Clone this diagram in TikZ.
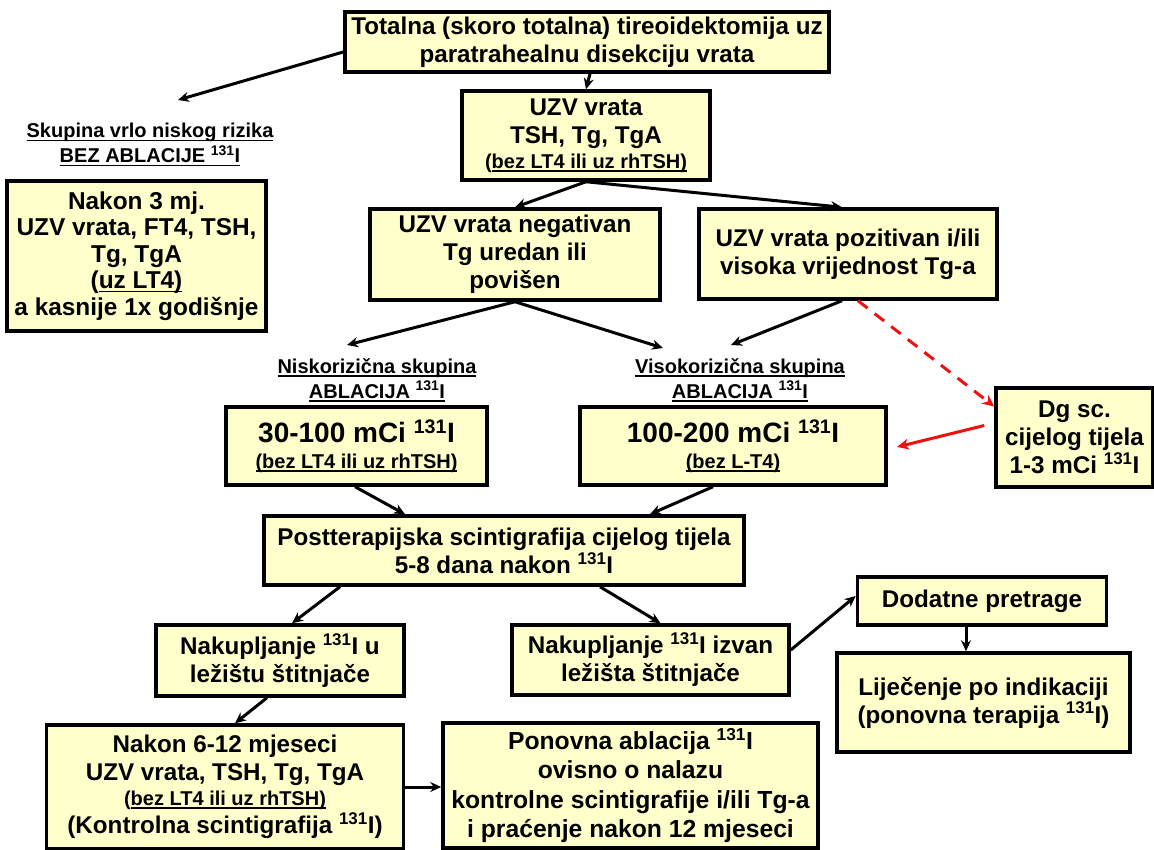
\documentclass[tikz,border=0pt]{standalone}
\usepackage{fontspec}
\setmainfont{Liberation Sans}
\usetikzlibrary{arrows.meta}
\definecolor{boxfill}{HTML}{FFFFCC}
\definecolor{redline}{HTML}{F01010}
\newcommand\ulx[1]{\sbox0{#1}\leavevmode\rlap{\rule[-3.5pt]{\wd0}{1.8pt}}\usebox0}
\newcommand\iso{\textsuperscript{131}I}
\newcommand\fmain{\fontsize{24.2}{28}\selectfont\bfseries}
\newcommand\fsmall{\fontsize{20}{25}\selectfont\bfseries}
\newcommand\fbig{\fontsize{28}{32}\selectfont\bfseries}
\begin{document}
\begin{tikzpicture}[x=1pt,y=-1pt,
  box/.style={draw, line width=3.5pt, fill=boxfill, align=center, inner sep=0pt, font=\fmain},
  hdr/.style={align=center, inner sep=0pt, font=\fsmall},
  arr/.style={line width=3pt, -{Stealth[length=11pt,width=10pt]}},
  redarr/.style={line width=3pt, draw=redline, -{Stealth[length=12pt,width=11pt]}}]
\useasboundingbox (0,0) rectangle (1154,850);

% boxes
\node[box, minimum width=484pt, minimum height=60pt] (top) at (587,42)
  {Totalna (skoro totalna) tireoidektomija uz\\paratrahealnu disekciju vrata};
\node[box, minimum width=248pt, minimum height=89pt] (uzv) at (586,135.5)
  {UZV vrata\\TSH, Tg, TgA\\[-3pt]{\fsmall (\ulx{bez LT4 ili uz rhTSH)}}};
\node[hdr] (hL) at (150,145)
  {\ulx{Skupina vrlo niskog rizika}\\\ulx{BEZ ABLACIJE \iso}};
\node[box, minimum width=259pt, minimum height=150pt, font=\fontsize{24.4}{26.6}\selectfont\bfseries] (left) at (136.5,256)
  {Nakon 3 mj.\\UZV vrata, FT4, TSH,\\Tg, TgA\\(\ulx{uz LT4)}\\a kasnije 1x godišnje};
\node[box, minimum width=290pt, minimum height=91pt] (neg) at (515,254.5)
  {UZV vrata negativan\\Tg uredan ili\\povišen};
\node[box, minimum width=298pt, minimum height=90pt] (pos) at (848,254)
  {UZV vrata pozitivan i/ili\\visoka vrijednost Tg-a};
\node[box, minimum width=157pt, minimum height=99pt] (dg) at (1074.5,437.5)
  {Dg sc.\\cijelog tijela\\1-3 mCi \iso};
\node[hdr] (hN) at (377,380)
  {\ulx{Niskorizična skupina}\\\ulx{ABLACIJA \iso}};
\node[hdr] (hV) at (740,380)
  {\ulx{Visokorizična skupina}\\\ulx{ABLACIJA \iso}};
\node[box, minimum width=261pt, minimum height=78pt] (low) at (356.5,446)
  {{\fbig 30-100 mCi \iso}\\[-2pt]{\fsmall \ulx{(bez LT4 ili uz rhTSH)}}};
\node[box, minimum width=306pt, minimum height=78pt] (high) at (733,446)
  {{\fbig 100-200 mCi \iso}\\[-2pt]{\fsmall \ulx{(bez L-T4)}}};
\node[box, minimum width=480pt, minimum height=69pt] (post) at (504,550.5)
  {Postterapijska scintigrafija cijelog tijela\\5-8 dana nakon \iso};
\node[box, minimum width=248pt, minimum height=71pt] (nakU) at (280,660.5)
  {Nakupljanje \iso{} u\\ležištu štitnjače};
\node[box, minimum width=277pt, minimum height=70pt] (nakIz) at (650.5,660)
  {Nakupljanje \iso{} izvan\\ležišta štitnjače};
\node[box, minimum width=249pt, minimum height=48pt] (dod) at (982,601)
  {Dodatne pretrage};
\node[box, minimum width=293pt, minimum height=99pt] (lij) at (983.5,702.5)
  {Liječenje po indikaciji\\(ponovna terapija \iso)};
\node[box, minimum width=357pt, minimum height=124pt] (n612) at (225,787)
  {Nakon 6-12 mjeseci\\UZV vrata, TSH, Tg, TgA\\[-3pt]{\fsmall (\ulx{bez LT4 ili uz rhTSH)}}\\(Kontrolna scintigrafija \iso)};
\node[box, minimum width=375pt, minimum height=125pt, font=\fontsize{24.7}{29.3}\selectfont\bfseries] (pon) at (630.5,785.5)
  {Ponovna ablacija \iso\\ovisno o nalazu\\kontrolne scintigrafije i/ili Tg-a\\i praćenje nakon 12 mjeseci};

% free arrow ends
\coordinate (aL) at (178,100);
\coordinate (aN) at (347,345);
\coordinate (aV1) at (663,348);
\coordinate (aV2) at (731,345);
\coordinate (aR) at (897,447);

% connectors
\draw[arr] ([yshift=-10pt]top.west) -- (aL);
\draw[arr] ([xshift=3pt]top.south) -- (uzv.north);
\draw[arr] (uzv.south) -- (neg.north);
\draw[arr] (uzv.south) -- ([xshift=-6pt]pos.north);
\draw[arr] (neg.south) -- (aN);
\draw[arr] (neg.south) -- (aV1);
\draw[arr] ([xshift=-6pt]pos.south) -- (aV2);
\draw[redarr, dash pattern=on 12pt off 9pt] ([xshift=10pt]pos.south) -- ([yshift=31pt]dg.west);
\draw[redarr] ([xshift=-10pt,yshift=12pt]dg.west) -- (aR);
\draw[arr] ([xshift=-1.5pt]low.south) -- ([xshift=-99pt]post.north);
\draw[arr] ([xshift=-20pt]high.south) -- ([xshift=146pt]post.north);
\draw[arr] ([xshift=-164pt]post.south) -- ([xshift=12pt]nakU.north);
\draw[arr] ([xshift=96pt]post.south) -- ([xshift=10pt]nakIz.north);
\draw[arr] ([yshift=10pt]nakIz.east) -- ([yshift=5pt]dod.west);
\draw[arr] ([xshift=-16pt]dod.south) -- ([xshift=-17.5pt]lij.north);
\draw[arr] ([xshift=-13pt]nakU.south) -- ([xshift=10pt]n612.north);
\draw[arr] (n612.east) -- (n612.east -| pon.west);
\end{tikzpicture}
\end{document}
